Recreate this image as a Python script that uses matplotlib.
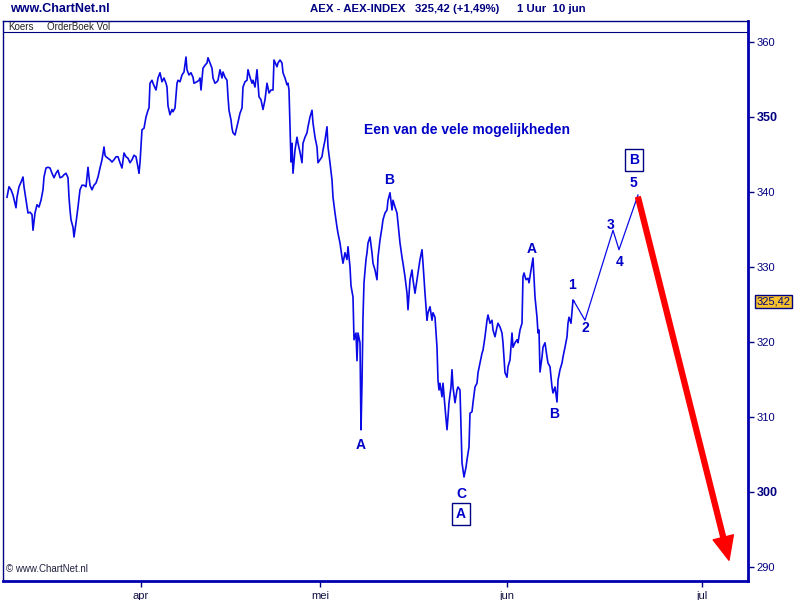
import matplotlib
matplotlib.use("Agg")
import matplotlib.pyplot as plt
import matplotlib.transforms as mtransforms

# data: uurbalk-index (1 uur per balk) en slotkoers AEX
uur = [7, 9, 11, 13, 15, 16, 17, 19, 21, 23, 24, 26, 28, 30, 32, 33, 35, 37, 39, 41,
       43, 44, 46, 48, 50, 52, 54, 56, 58, 60, 62, 64, 66, 68, 69, 70, 71, 73, 74, 76,
       78, 80, 82, 84, 86, 88, 89, 90, 92, 94, 96, 98, 100, 102, 104, 105, 106, 108, 110, 112,
       114, 116, 118, 120, 122, 124, 126, 128, 130, 132, 134, 136, 138, 139, 140, 141, 142, 144, 146, 148,
       149, 150, 152, 153, 156, 158, 160, 162, 164, 166, 167, 168, 170, 172, 173, 175, 177, 178, 180, 182,
       184, 186, 187, 189, 191, 193, 194, 197, 199, 200, 201, 203, 205, 207, 208, 210, 212, 213, 215, 217,
       218, 220, 222, 223, 225, 227, 228, 229, 231, 232, 233, 235, 237, 238, 240, 242, 243, 245, 247, 248,
       250, 252, 253, 255, 257, 259, 261, 263, 265, 267, 269, 271, 273, 274, 277, 278, 280, 282, 283, 285,
       287, 288, 289, 290, 291, 292, 293, 295, 297, 298, 300, 302, 303, 305, 307, 308, 310, 312, 313, 315,
       317, 318, 320, 322, 323, 325, 327, 328, 330, 332, 333, 335, 337, 338, 340, 342, 343, 345, 347, 348,
       350, 351, 353, 354, 356, 357, 358, 360, 361, 362, 363, 364, 366, 367, 368, 370, 372, 373, 375, 377,
       378, 380, 382, 383, 385, 387, 388, 390, 392, 393, 395, 397, 398, 400, 402, 403, 405, 407, 408, 410,
       412, 413, 415, 417, 418, 420, 422, 423, 425, 427, 428, 430, 432, 433, 435, 437, 438, 439, 440, 442,
       443, 445, 447, 448, 449, 451, 452, 453, 455, 457, 458, 460, 462, 463, 464, 466, 467, 469, 470, 472,
       473, 475, 477, 478, 480, 482, 483, 485, 487, 488, 490, 492, 493, 495, 497, 498, 500, 502, 503, 505,
       507, 508, 510, 512, 513, 515, 517, 518, 520, 522, 523, 524, 526, 528, 529, 531, 533, 534, 535, 537,
       538, 539, 540, 542, 543, 545, 547, 548, 550, 552, 553, 555, 557, 558, 560, 562, 563, 565, 567, 568,
       569, 571, 573, 574]
koers = [339.3, 340.7, 340.3, 339.6, 338.5, 337.9, 339.3, 340.7, 341.3, 342.0, 340.7, 338.9, 337.2, 337.3, 337.0, 334.9, 337.2, 338.3, 338.0, 338.9,
         340.3, 342.0, 343.2, 343.3, 343.2, 342.5, 341.9, 342.5, 342.9, 341.9, 342.0, 342.3, 342.5, 341.9, 339.3, 337.6, 336.3, 335.3, 334.0, 335.9,
         338.0, 340.3, 340.9, 340.9, 340.7, 343.3, 342.0, 340.9, 340.3, 340.9, 341.2, 342.0, 343.2, 344.3, 346.0, 344.9, 344.7, 344.5, 344.3, 344.0,
         344.3, 344.7, 344.7, 343.9, 343.2, 345.2, 344.7, 344.5, 343.9, 344.3, 344.9, 344.7, 343.3, 342.5, 343.9, 346.0, 348.3, 348.5, 350.0, 350.9,
         351.2, 354.5, 354.9, 354.5, 353.6, 355.2, 355.9, 354.7, 355.2, 354.5, 354.0, 351.5, 350.3, 351.0, 350.7, 351.2, 354.5, 354.9, 354.7, 355.6,
         356.0, 358.0, 356.3, 355.6, 355.9, 355.3, 354.5, 354.7, 354.9, 355.2, 353.6, 356.5, 356.9, 357.2, 357.9, 357.2, 356.5, 355.2, 354.5, 354.7,
         354.9, 356.3, 355.2, 356.0, 355.3, 354.9, 352.7, 350.9, 349.6, 348.5, 347.9, 347.6, 348.7, 349.3, 350.5, 351.2, 354.0, 354.7, 354.9, 356.3,
         355.3, 354.5, 354.9, 354.0, 356.3, 352.7, 352.3, 351.0, 352.3, 354.5, 353.2, 353.6, 353.6, 357.6, 356.7, 357.2, 357.6, 357.2, 355.9, 355.2,
         354.3, 354.5, 353.6, 349.0, 344.0, 346.5, 342.5, 345.6, 347.3, 346.5, 345.3, 343.9, 346.5, 347.3, 347.9, 348.7, 350.0, 350.9, 349.2, 347.3,
         346.0, 343.9, 344.3, 344.7, 345.6, 346.9, 348.7, 346.0, 343.9, 341.6, 339.3, 337.2, 335.3, 334.5, 333.2, 331.3, 330.5, 331.9, 331.0, 332.7,
         330.0, 327.5, 326.0, 320.3, 321.2, 317.5, 321.2, 319.9, 308.3, 314.5, 323.3, 327.9, 331.0, 331.9, 333.2, 334.0, 331.9, 330.5, 329.6, 328.3,
         331.3, 333.6, 335.3, 336.3, 337.2, 337.6, 338.9, 339.9, 337.6, 338.9, 338.0, 337.2, 335.9, 333.2, 331.3, 330.5, 328.7, 326.5, 324.3, 328.3,
         329.6, 328.3, 326.5, 328.3, 329.2, 331.0, 332.3, 330.5, 326.5, 322.9, 323.9, 324.7, 322.9, 323.9, 323.3, 319.3, 314.9, 313.6, 314.5, 312.7,
         314.5, 311.3, 308.3, 310.0, 311.9, 314.0, 316.3, 314.0, 311.9, 313.6, 314.0, 313.6, 303.9, 302.9, 302.0, 303.3, 304.3, 306.0, 310.5, 310.7,
         311.9, 314.0, 314.5, 315.9, 317.2, 318.5, 318.9, 320.7, 322.9, 323.6, 322.5, 322.9, 321.6, 320.7, 322.0, 322.5, 322.0, 321.2, 319.9, 315.9,
         315.3, 316.7, 317.6, 321.2, 319.3, 319.9, 320.3, 319.9, 321.6, 322.5, 328.7, 329.2, 328.3, 328.5, 327.9, 329.6, 331.2, 328.7, 326.0, 323.3,
         321.2, 321.6, 316.0, 318.0, 319.3, 319.9, 318.0, 317.2, 316.7, 314.0, 313.2, 314.0, 312.0, 314.9, 316.3, 317.2, 318.0, 319.3, 320.7, 322.5,
         323.3, 322.5, 325.6, 325.42]

# verwachte golven 1-2-3-4-5
golf_uur = [574, 585, 613, 619, 638]
golf_koers = [325.42, 322.9, 334.9, 332.3, 339.6]

# maandlabels
maand_pos = [141, 320, 507, 702]
maand_lbl = ["apr", "mei", "jun", "jul"]
y_ticks = [290, 300, 310, 320, 330, 340, 350, 360]

navy = "#000080"
lijn = "#0a0ae6"
tekst = "#0000c8"

plt.rcParams["font.family"] = ["Liberation Sans", "DejaVu Sans"]

fig = plt.figure(figsize=(8, 6), dpi=100)
ax = fig.add_axes([3 / 800, 19 / 600, 745 / 800, 560 / 600])
ax.set_xlim(3, 748)
ax.set_ylim(288.133, 362.8)

ax.plot(uur, koers, color=lijn, linewidth=1.2)
ax.plot(golf_uur, golf_koers, color=lijn, linewidth=0.9)

# rode pijl
ax.annotate("", xy=(729, 290.9), xytext=(638, 339.3),
            arrowprops=dict(width=3.5, headwidth=15, headlength=17, color="#ff0000", shrink=0))

# assen
for s in ["left", "top"]:
    ax.spines[s].set_color(navy)
    ax.spines[s].set_linewidth(1)
for s in ["right", "bottom"]:
    ax.spines[s].set_color("#0000b0")
    ax.spines[s].set_linewidth(2)

ax.yaxis.tick_right()
ax.set_yticks(y_ticks)
ax.set_yticklabels([str(t) for t in y_ticks])
ax.tick_params(axis="y", direction="out", length=4, width=1, colors=navy, labelsize=8, pad=2)
for lbl, t in zip(ax.get_yticklabels(), y_ticks):
    if t in (300, 350):
        lbl.set_fontweight("bold")
        lbl.set_fontsize(9)
ax.set_xticks(maand_pos)
ax.set_xticklabels(maand_lbl)
ax.tick_params(axis="x", direction="out", length=4, width=1, colors=navy, labelsize=8, pad=3)
for lbl in ax.get_xticklabels():
    lbl.set_color("#101040")

# kopregel in de grafiek
ax.axhline(361.33, color=navy, linewidth=0.8)
ax.text(0.007, 0.989, "Koers", transform=ax.transAxes, fontsize=7, color="#202020", va="center")
ax.text(0.059, 0.989, "OrderBoek Vol", transform=ax.transAxes, fontsize=7, color="#202020", va="center")
ax.text(0.004, 0.012, "© www.ChartNet.nl", transform=ax.transAxes, fontsize=7, color="#202040", va="bottom")

# laatste koers
trans = mtransforms.blended_transform_factory(ax.transAxes, ax.transData)
ax.text(1.011, 325.42, "325,42", transform=trans, fontsize=8, color=navy, va="center", ha="left",
        bbox=dict(boxstyle="square,pad=0.15", fc="#f6c12c", ec=navy, lw=1))

# golftelling
kw = dict(color=tekst, fontsize=10, fontweight="bold", ha="center", va="center")
ax.text(467, 348.3, "Een van de vele mogelijkheden", **kw)
ax.text(389, 341.6, "B", **kw)
ax.text(361, 306.3, "A", **kw)
ax.text(461, 299.7, "C", **kw)
ax.text(532, 332.4, "A", **kw)
ax.text(554, 310.4, "B", **kw)
ax.text(572, 327.6, "1", **kw)
ax.text(585, 321.9, "2", **kw)
ax.text(611, 335.6, "3", **kw)
ax.text(620, 330.7, "4", **kw)
ax.text(633, 341.2, "5", **kw)
box = dict(boxstyle="square,pad=0.3", fc="white", ec=navy, lw=1)
ax.text(461, 297.1, "A", bbox=box, **kw)
ax.text(634, 344.3, "B", bbox=box, **kw)

# titel
fig.text(10 / 800, 1 - 9 / 600, "www.ChartNet.nl", fontsize=9, fontweight="bold", color=navy, va="center")
fig.text(310 / 800, 1 - 9 / 600, "AEX - AEX-INDEX", fontsize=8.2, fontweight="bold", color=navy, va="center")
fig.text(415 / 800, 1 - 9 / 600, "325,42 (+1,49%)", fontsize=8.2, fontweight="bold", color=navy, va="center")
fig.text(517 / 800, 1 - 9 / 600, "1 Uur  10 jun", fontsize=8.2, fontweight="bold", color=navy, va="center")

fig.savefig("out.png", dpi=100)
